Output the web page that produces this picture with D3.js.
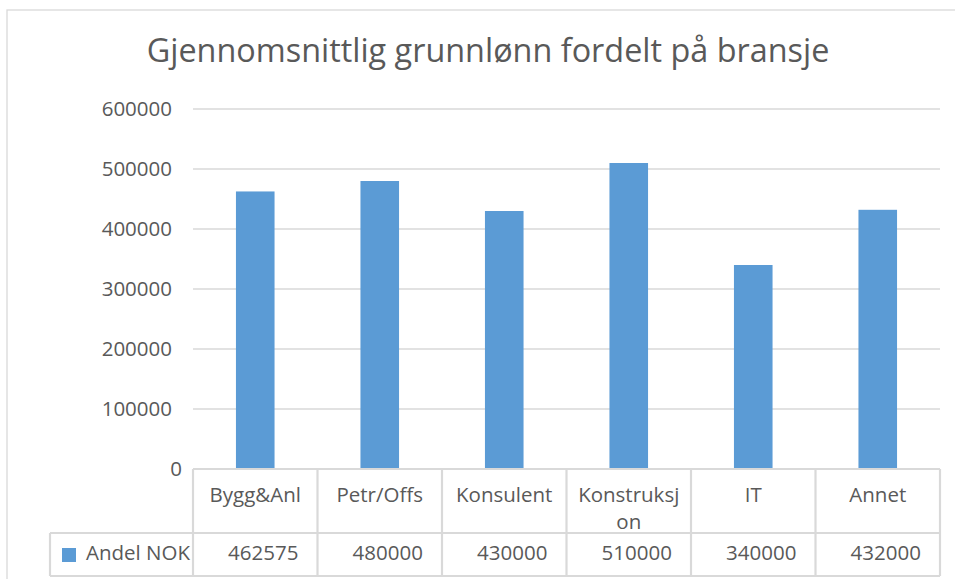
<!DOCTYPE html>
<html>
<head>
<meta charset="utf-8">
<script src="https://cdn.jsdelivr.net/npm/d3@7"></script>
<style>
  html, body { margin: 0; padding: 0; background: #fff; }
  svg { display: block; }
  text { font-family: "Open Sans", "DejaVu Sans", sans-serif; fill: #595959; }
</style>
</head>
<body>
<svg id="chart" width="955" height="579"></svg>
<script>
const title = "Gjennomsnittlig grunnlønn fordelt på bransje";
const categories = ["Bygg&Anl", "Petr/Offs", "Konsulent", "Konstruksjon", "IT", "Annet"];
const seriesName = "Andel NOK";
const values = [462575, 480000, 430000, 510000, 340000, 432000];
const yTicks = [0, 100000, 200000, 300000, 400000, 500000, 600000];

const W = 955, H = 579;
const svg = d3.select("#chart");
const plot = { left: 193, right: 940, top: 109, bottom: 469 };
const tableBottom = 576, rowSplit = 533, legendLeft = 50;
const color = "#5B9BD5", grid = "#d9d9d9";

// outer chart border (cropped on right/bottom)
svg.append("rect").attr("x", 7).attr("y", 10).attr("width", W).attr("height", H)
  .attr("fill", "none").attr("stroke", "#d9d9d9").attr("stroke-width", 1.3);

// title
const t = svg.append("text").attr("x", 488).attr("y", 62).attr("text-anchor", "middle")
  .style("font-size", "28px").text(title);
const tw = t.node().getComputedTextLength();
t.style("font-size", (28 * 683 / tw).toFixed(2) + "px");

const y = d3.scaleLinear().domain([0, 600000]).range([plot.bottom, plot.top]);
const cols = d3.scaleBand().domain(categories).range([plot.left, plot.right]).padding(0);
const x = d3.scaleBand().domain(categories).range([plot.left, plot.right])
  .paddingInner(0.69).paddingOuter(0.345);

// gridlines
svg.append("g").selectAll("line").data(yTicks.filter(d => d > 0)).join("line")
  .attr("x1", plot.left).attr("x2", plot.right)
  .attr("y1", d => y(d)).attr("y2", d => y(d))
  .attr("stroke", grid).attr("stroke-width", 1.5);

// y axis labels
const yAxis = svg.append("g").attr("transform", `translate(${plot.left},0)`)
  .call(d3.axisLeft(y).tickValues(yTicks).tickSize(0).tickPadding(21).tickFormat(d => String(d)));
yAxis.select(".domain").remove();
yAxis.selectAll("text").style("font-size", "20.5px").style("fill", "#595959")
  .attr("font-family", null)
  .attr("dx", d => d === 0 ? 10 : 0);

// bars
svg.append("g").selectAll("rect").data(values).join("rect")
  .attr("x", (d, i) => x(categories[i]))
  .attr("width", x.bandwidth())
  .attr("y", d => y(d))
  .attr("height", d => y(0) - y(d))
  .attr("fill", color);

// data table
const tg = svg.append("g");
function hline(x1, x2, yy) { tg.append("line").attr("x1", x1).attr("x2", x2).attr("y1", yy).attr("y2", yy).attr("stroke", grid).attr("stroke-width", 2.2); }
function vline(xx, y1, y2) { tg.append("line").attr("x1", xx).attr("x2", xx).attr("y1", y1).attr("y2", y2).attr("stroke", grid).attr("stroke-width", 2.2); }
hline(plot.left, plot.right, plot.bottom);
hline(legendLeft, plot.right, rowSplit);
hline(legendLeft, plot.right, tableBottom);
vline(legendLeft, rowSplit, tableBottom);
categories.forEach(c => vline(cols(c), plot.bottom, tableBottom));
vline(plot.right, plot.bottom, tableBottom);

// category labels with character wrap
const maxW = 108;
categories.forEach(c => {
  const cx = cols(c) + cols.bandwidth() / 2;
  const tx = tg.append("text").attr("x", cx).attr("y", 502)
    .attr("text-anchor", "middle").style("font-size", "20.5px");
  let lines = [], cur = "";
  const probe = tg.append("text").style("font-size", "20.5px");
  for (const ch of c) {
    probe.text(cur + ch);
    if (probe.node().getComputedTextLength() > maxW && cur) { lines.push(cur); cur = ch; }
    else cur += ch;
  }
  lines.push(cur);
  probe.remove();
  lines.forEach((l, i) => tx.append("tspan").attr("x", cx).attr("dy", i === 0 ? 0 : 27).text(l));
});

// value row
tg.selectAll("text.val").data(values).join("text").attr("class", "val")
  .attr("x", (d, i) => cols(categories[i]) + cols.bandwidth() / 2 + 8)
  .attr("y", 560).attr("text-anchor", "middle").style("font-size", "20.5px")
  .text(d => String(d));

// legend key in table
tg.append("rect").attr("x", 62).attr("y", 548).attr("width", 14).attr("height", 14).attr("fill", color);
tg.append("text").attr("x", 86).attr("y", 560).style("font-size", "20.5px").text(seriesName);
</script>
</body>
</html>
